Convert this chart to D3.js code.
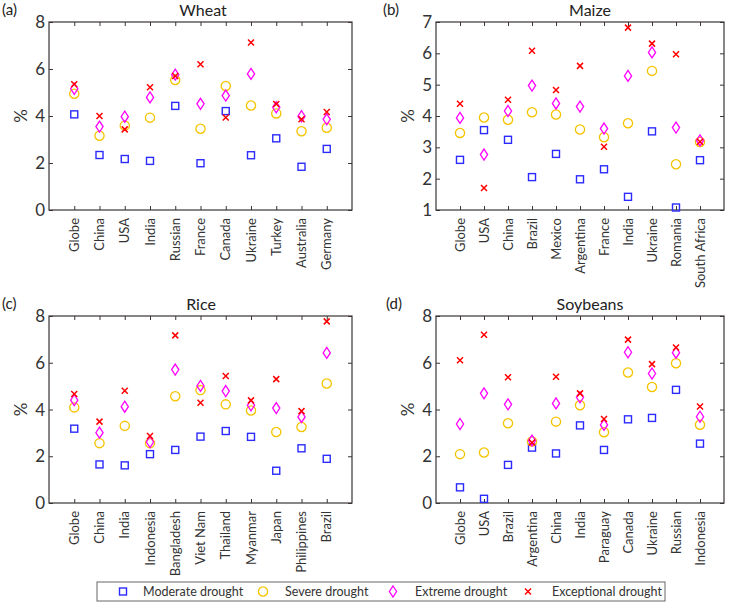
<!DOCTYPE html>
<html>
<head>
<meta charset="utf-8">
<script src="https://cdn.jsdelivr.net/npm/d3@7"></script>
<style>
  body { margin: 0; background: #fff; }
  svg { font-family: Lato, "Open Sans", sans-serif; }
</style>
</head>
<body>
<svg width="740" height="603"></svg>
<script>
'use strict';

// data (% yield loss)
const wheatCats = ['Globe','China','USA','India','Russian','France','Canada','Ukraine','Turkey','Australia','Germany'];
const wheatModerate    = [4.07, 2.34, 2.17, 2.09, 4.43, 1.99, 4.21, 2.33, 3.05, 1.84, 2.60];
const wheatSevere      = [4.95, 3.16, 3.59, 3.93, 5.53, 3.46, 5.28, 4.45, 4.11, 3.35, 3.50];
const wheatExtreme     = [5.16, 3.55, 3.97, 4.79, 5.76, 4.52, 4.87, 5.79, 4.37, 3.99, 3.86];
const wheatExceptional = [5.35, 4.00, 3.43, 5.22, 5.70, 6.20, 3.94, 7.13, 4.51, 3.86, 4.17];

const maizeCats = ['Globe','USA','China','Brazil','Mexico','Argentina','France','India','Ukraine','Romania','South Africa'];
const maizeModerate    = [2.60, 3.55, 3.24, 2.05, 2.79, 1.98, 2.30, 1.42, 3.51, 1.08, 2.59];
const maizeSevere      = [3.46, 3.95, 3.88, 4.12, 4.05, 3.57, 3.32, 3.77, 5.44, 2.46, 3.17];
const maizeExtreme     = [3.94, 2.77, 4.16, 4.97, 4.40, 4.30, 3.60, 5.28, 6.03, 3.63, 3.22];
const maizeExceptional = [4.39, 1.70, 4.52, 6.08, 4.83, 5.60, 3.02, 6.82, 6.31, 5.97, 3.18];

const riceCats = ['Globe','China','India','Indonesia','Bangladesh','Viet Nam','Thailand','Myanmar','Japan','Philippines','Brazil'];
const riceModerate    = [3.18, 1.65, 1.61, 2.09, 2.27, 2.84, 3.08, 2.83, 1.38, 2.34, 1.89];
const riceSevere      = [4.09, 2.56, 3.30, 2.56, 4.57, 4.83, 4.22, 3.96, 3.04, 3.25, 5.11];
const riceExtreme     = [4.40, 3.01, 4.12, 2.61, 5.71, 5.01, 4.79, 4.18, 4.06, 3.68, 6.42];
const riceExceptional = [4.66, 3.48, 4.80, 2.87, 7.17, 4.29, 5.43, 4.39, 5.30, 3.93, 7.77];

const soyCats = ['Globe','USA','Brazil','Argentina','China','India','Paraguay','Canada','Ukraine','Russian','Indonesia'];
const soyModerate    = [0.67, 0.18, 1.63, 2.37, 2.12, 3.32, 2.27, 3.58, 3.64, 4.84, 2.54];
const soySevere      = [2.09, 2.16, 3.41, 2.63, 3.48, 4.18, 3.03, 5.58, 4.96, 5.98, 3.35];
const soyExtreme     = [3.38, 4.69, 4.22, 2.67, 4.26, 4.52, 3.34, 6.45, 5.54, 6.43, 3.69];
const soyExceptional = [6.11, 7.20, 5.38, 2.59, 5.40, 4.69, 3.59, 6.99, 5.94, 6.65, 4.13];

const legendLabels = ['Moderate drought', 'Severe drought', 'Extreme drought', 'Exceptional drought'];

const svg = d3.select('svg');
const axisColor = '#3a3434';
const textColor = '#333';

const panels = [
  {tag: '(a)', title: 'Wheat', cats: wheatCats, series: [wheatModerate, wheatSevere, wheatExtreme, wheatExceptional],
   x0: 49, x1: 352, y0: 22, y1: 210, ymin: 0, ymax: 8, ticks: [0, 2, 4, 6, 8], titleX: 203, tagX: 2},
  {tag: '(b)', title: 'Maize', cats: maizeCats, series: [maizeModerate, maizeSevere, maizeExtreme, maizeExceptional],
   x0: 436, x1: 724, y0: 22, y1: 210, ymin: 1, ymax: 7, ticks: [1, 2, 3, 4, 5, 6, 7], titleX: 590, tagX: 383},
  {tag: '(c)', title: 'Rice', cats: riceCats, series: [riceModerate, riceSevere, riceExtreme, riceExceptional],
   x0: 49, x1: 352, y0: 316, y1: 503, ymin: 0, ymax: 8, ticks: [0, 2, 4, 6, 8], titleX: 201, tagX: 2},
  {tag: '(d)', title: 'Soybeans', cats: soyCats, series: [soyModerate, soySevere, soyExtreme, soyExceptional],
   x0: 436, x1: 724, y0: 316, y1: 503, ymin: 0, ymax: 8, ticks: [0, 2, 4, 6, 8], titleX: 590, tagX: 386}
];

// marker drawing, one function per drought class
const markers = [
  (g) => g.append('rect').attr('x', -3.5).attr('y', -3.5).attr('width', 7).attr('height', 7)
          .attr('fill', 'none').attr('stroke', '#2b2bff').attr('stroke-width', 1.4),
  (g) => g.append('circle').attr('r', 4.6)
          .attr('fill', 'none').attr('stroke', '#f5c400').attr('stroke-width', 1.3),
  (g) => g.append('path').attr('d', 'M0,-5.5L3.6,0L0,5.5L-3.6,0Z')
          .attr('fill', 'none').attr('stroke', '#ff00ff').attr('stroke-width', 1.3),
  (g) => g.append('path').attr('d', 'M-3,-3L3,3M-3,3L3,-3')
          .attr('fill', 'none').attr('stroke', '#ff0000').attr('stroke-width', 1.5)
];

panels.forEach(p => {
  const x = d3.scaleLinear().domain([0, p.cats.length + 1]).range([p.x0, p.x1]);
  const y = d3.scaleLinear().domain([p.ymin, p.ymax]).range([p.y1, p.y0]);
  const g = svg.append('g');

  // inward ticks on all four sides
  g.append('g').attr('transform', `translate(${p.x0},0)`)
    .call(d3.axisRight(y).tickValues(p.ticks).tickSize(4).tickFormat(''))
    .call(a => a.select('.domain').remove())
    .call(a => a.selectAll('line').attr('stroke', axisColor));
  g.append('g').attr('transform', `translate(${p.x1},0)`)
    .call(d3.axisLeft(y).tickValues(p.ticks).tickSize(4).tickFormat(''))
    .call(a => a.select('.domain').remove())
    .call(a => a.selectAll('line').attr('stroke', axisColor));
  g.append('g').attr('transform', `translate(0,${p.y1})`)
    .call(d3.axisTop(x).tickValues(d3.range(1, p.cats.length + 1)).tickSize(4).tickFormat(''))
    .call(a => a.select('.domain').remove())
    .call(a => a.selectAll('line').attr('stroke', axisColor));
  g.append('g').attr('transform', `translate(0,${p.y0})`)
    .call(d3.axisBottom(x).tickValues(d3.range(1, p.cats.length + 1)).tickSize(4).tickFormat(''))
    .call(a => a.select('.domain').remove())
    .call(a => a.selectAll('line').attr('stroke', axisColor));

  g.append('rect')
    .attr('x', p.x0).attr('y', p.y0)
    .attr('width', p.x1 - p.x0).attr('height', p.y1 - p.y0)
    .attr('fill', 'none').attr('stroke', axisColor).attr('stroke-width', 1.2);

  // y tick labels
  g.selectAll('.ylab').data(p.ticks).enter().append('text')
    .attr('x', p.x0 - 4).attr('y', d => y(d)).attr('dy', '0.36em')
    .attr('text-anchor', 'end').attr('font-size', 17).attr('fill', textColor)
    .text(d => d);

  // x category labels, rotated
  g.selectAll('.xlab').data(p.cats).enter().append('text')
    .attr('transform', (d, i) => `translate(${x(i + 1)},${p.y1 + 8}) rotate(-90)`)
    .attr('dy', '0.35em').attr('text-anchor', 'end')
    .attr('font-size', 13).attr('fill', textColor)
    .text(d => d);

  g.append('text')
    .attr('transform', `translate(${p.x0 - 27.5},${(p.y0 + p.y1) / 2}) rotate(-90)`)
    .attr('dy', '0.35em').attr('text-anchor', 'middle')
    .attr('font-size', 17).attr('fill', textColor).text('%');

  g.append('text')
    .attr('x', p.titleX).attr('y', p.y0 - 6)
    .attr('text-anchor', 'middle').attr('font-size', 16).attr('fill', '#222')
    .text(p.title);

  g.append('text')
    .attr('x', p.tagX).attr('y', p.y0 - 7)
    .attr('font-size', 15).attr('fill', '#222')
    .text(p.tag);

  // markers
  p.series.forEach((vals, s) => {
    vals.forEach((v, i) => {
      const m = g.append('g').attr('transform', `translate(${x(i + 1)},${y(v)})`);
      markers[s](m);
    });
  });
});

// legend
const leg = svg.append('g');
leg.append('rect').attr('x', 97).attr('y', 582).attr('width', 568).attr('height', 19)
  .attr('fill', '#fff').attr('stroke', '#666').attr('stroke-width', 1);
const legX = [123, 263, 393, 528];
const legTx = [143, 285, 415, 552];
legendLabels.forEach((lab, i) => {
  const m = leg.append('g').attr('transform', `translate(${legX[i]},591.5)`);
  markers[i](m);
  leg.append('text').attr('x', legTx[i]).attr('y', 591.5).attr('dy', '0.35em')
    .attr('font-size', 12.5).attr('fill', textColor).text(lab);
});
</script>
</body>
</html>
